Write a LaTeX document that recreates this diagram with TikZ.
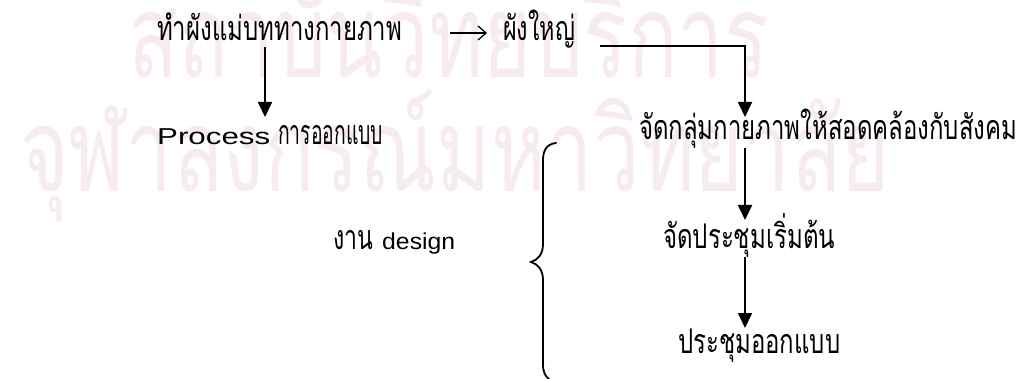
\documentclass[tikz,border=0pt]{standalone}
\usepackage{fontspec}
\usepackage{graphicx}
\usetikzlibrary{arrows.meta}
\newfontfamily\thaifont[Script=Thai]{Loma}
\newfontfamily\latinfont{Liberation Sans}
\definecolor{wmpink}{RGB}{248,235,240}
\newcommand\fitw[2]{\resizebox{#1}{\height}{#2}}
\newcommand\lat[1]{{\latinfont\fontsize{23}{27}\selectfont #1}}
\tikzset{
  txt/.style={anchor=base west, inner sep=0pt, text=black,
    font=\thaifont\fontsize{34}{40}\selectfont},
  wm/.style={anchor=base west, inner sep=0pt, text=wmpink,
    font=\thaifont\fontsize{116}{130}\selectfont},
  arr/.style={line width=1.8pt, -{Triangle[length=15pt,width=14pt]}},
  textarrow/.style={line width=1.3pt, -{Straight Barb[length=8pt,width=14pt]}},
  bracestyle/.style={line width=1.8pt, line cap=round}
}
\begin{document}
\begin{tikzpicture}[x=1pt,y=-1pt]
\useasboundingbox (0,0) rectangle (1022,379);
% watermark
\node[wm] (wm1) at (128,78) {\fitw{640pt}{สถาบันวิทยบริการ}};
\node[wm] (wm2) at (20,192) {\fitw{870pt}{จุฬาลงกรณ์มหาวิทยาลัย}};
% texts
\node[txt] (t1) at (157,41) {\fitw{245pt}{ทำผังแม่บททางกายภาพ}};
\node[txt] (t2) at (503,41) {\fitw{72pt}{ผังใหญ่}};
\node[txt] (t4) at (157,145) {\fitw{113pt}{\lat{Process}}\hspace{8pt}\fitw{105pt}{การออกแบบ}};
\node[txt] (t3) at (639,140) {\fitw{378pt}{จัดกลุ่มกายภาพให้สอดคล้องกับสังคม}};
\node[txt] (t7) at (333,250) {\fitw{40pt}{งาน}\hspace{9pt}\fitw{73pt}{\lat{design}}};
\node[txt] (t5) at (663,248) {\fitw{172pt}{จัดประชุมเริ่มต้น}};
\node[txt] (t6) at (678,353) {\fitw{162pt}{ประชุมออกแบบ}};
% connectors
\draw[textarrow] ([xshift=48pt,yshift=8pt]t1.base east) -- ([xshift=-16pt,yshift=8pt]t2.base west);
\draw[arr] ([xshift=108pt,yshift=-6pt]t1.base west) -- ([xshift=108pt,yshift=28pt]t4.base west);
\draw[arr] ([xshift=25pt,yshift=-5pt]t2.base east) -| ([xshift=106pt,yshift=23pt]t3.base west);
\draw[arr] ([xshift=106pt,yshift=-8pt]t3.base west) -- ([xshift=82pt,yshift=28pt]t5.base west);
\draw[arr] ([xshift=82pt,yshift=-9pt]t5.base west) -- ([xshift=67pt,yshift=25pt]t6.base west);
% brace
\draw[bracestyle] (556,143) .. controls (547,144) and (543,150) .. (543,160)
  -- (543,244) .. controls (543,254) and (538,260) .. (531,262)
  .. controls (538,264) and (543,270) .. (543,280)
  -- (543,364) .. controls (543,372) and (545,376) .. (549,379);
\end{tikzpicture}
\end{document}
